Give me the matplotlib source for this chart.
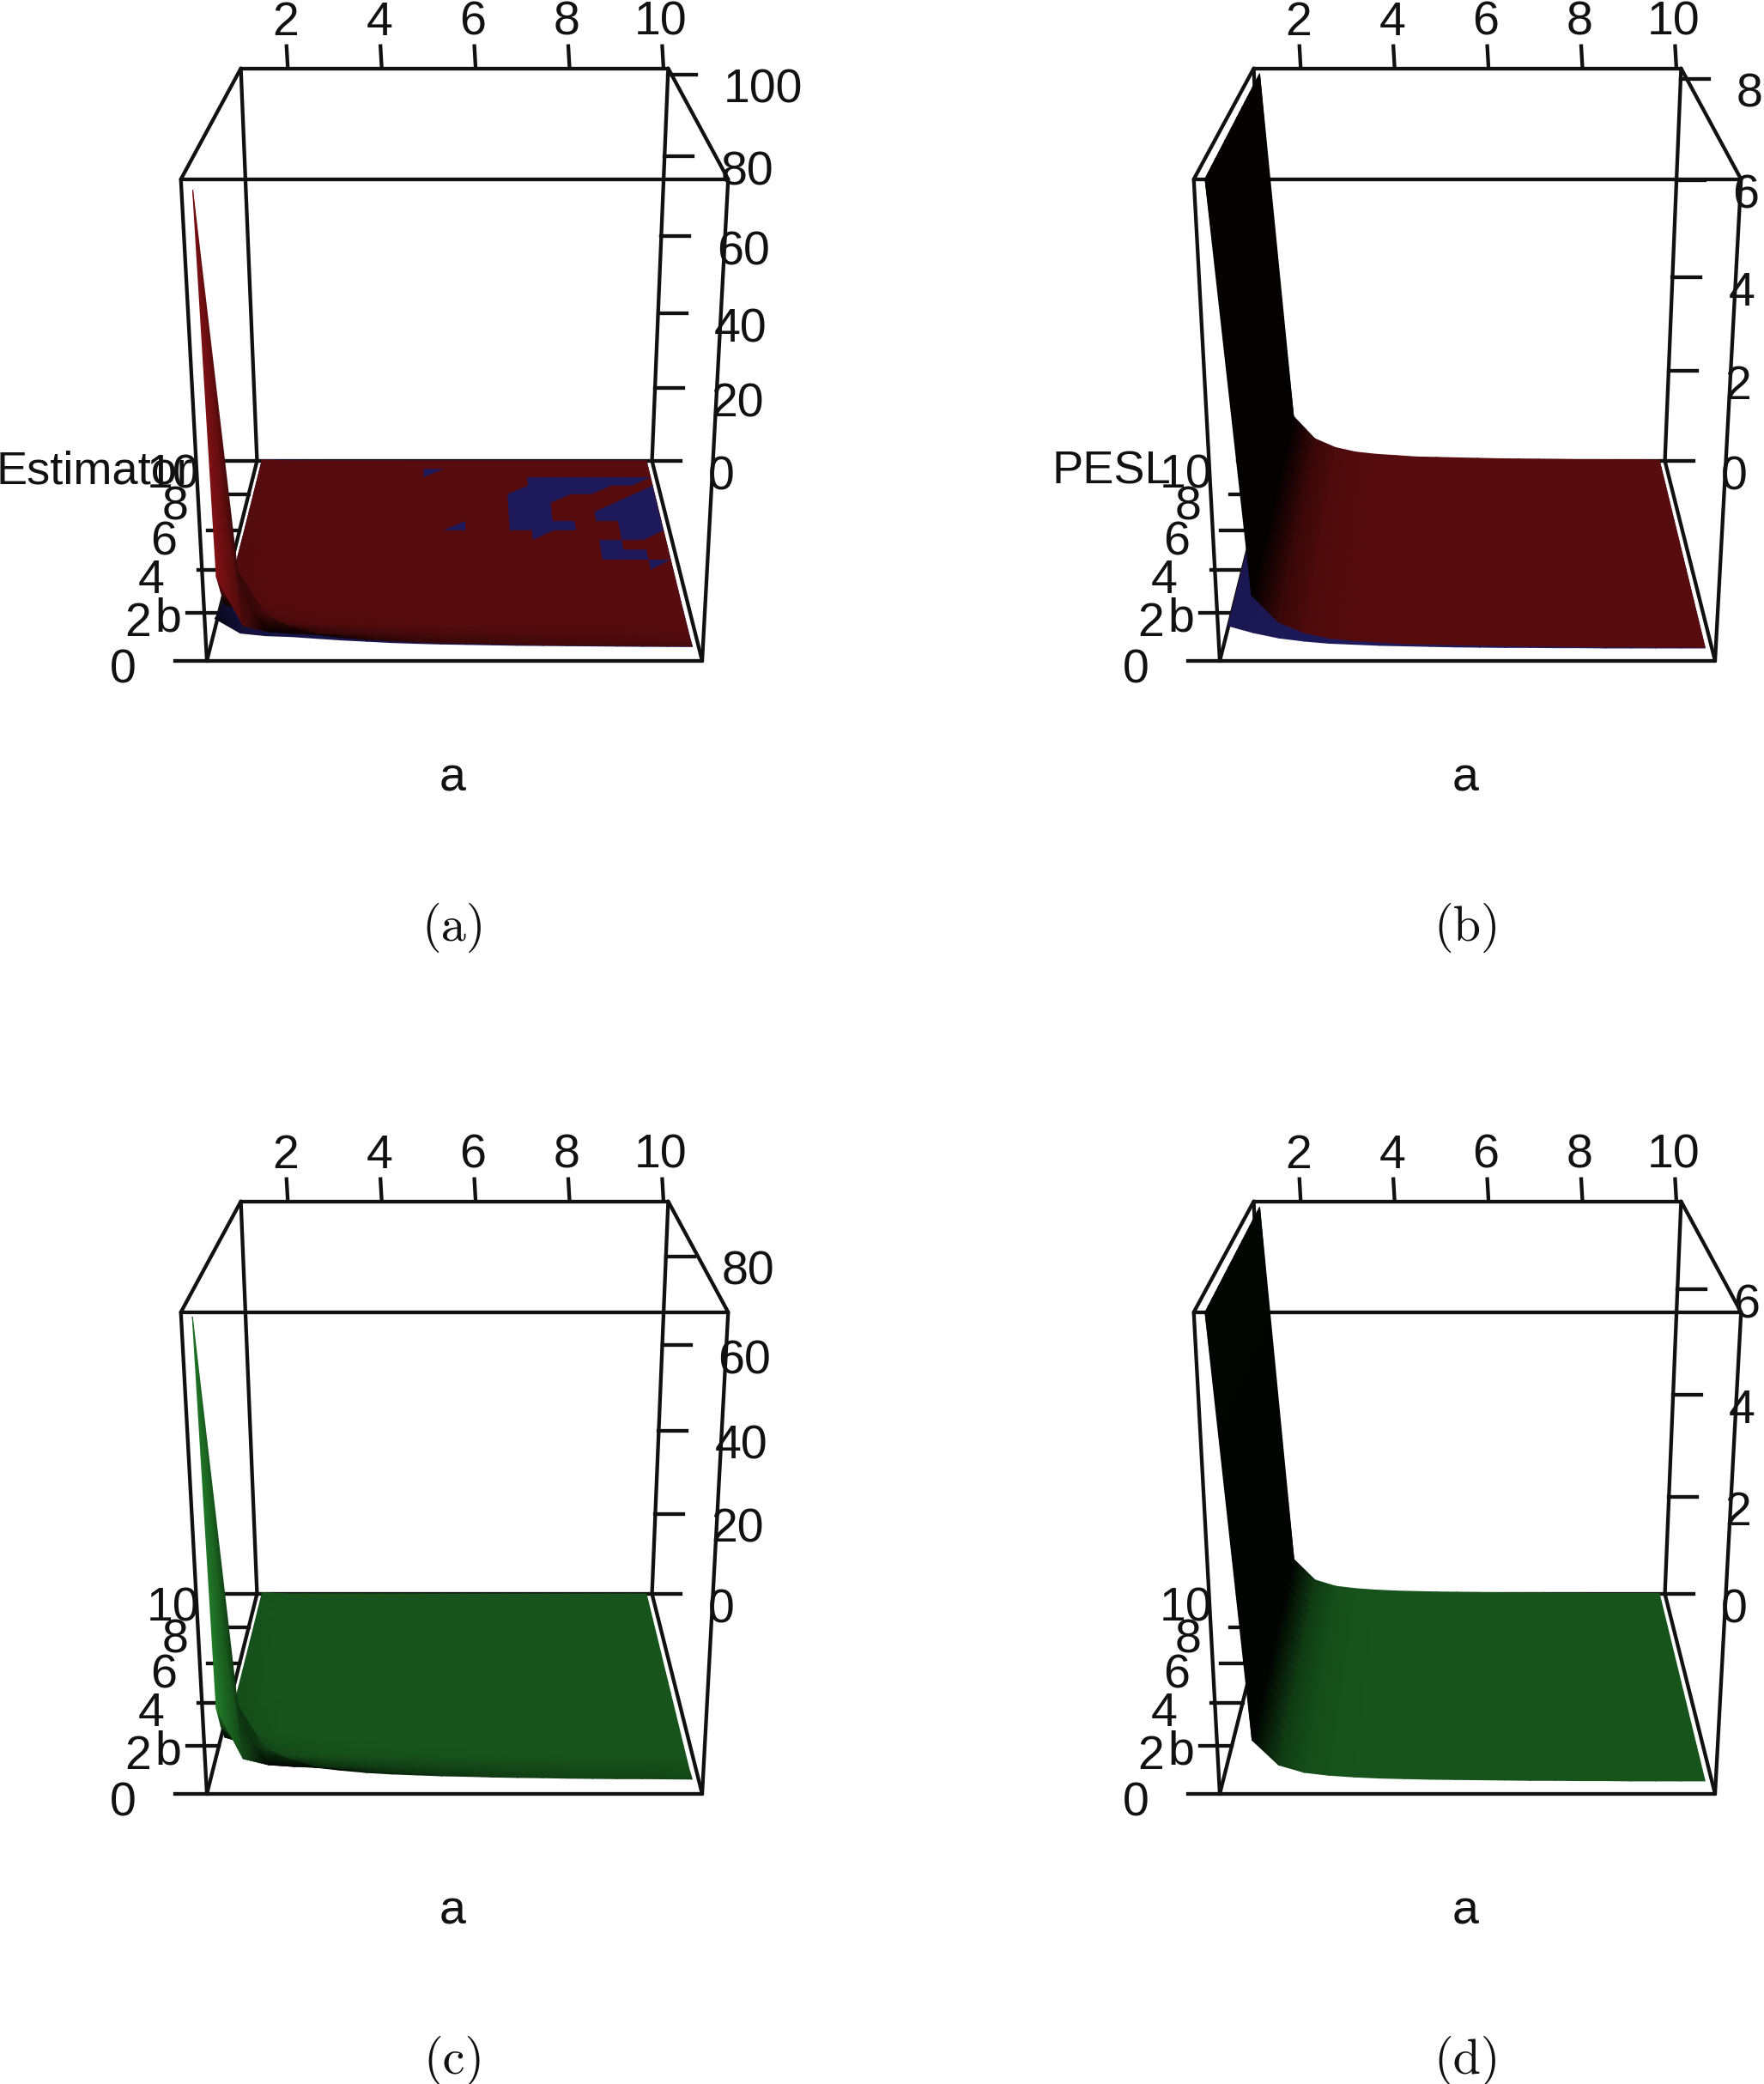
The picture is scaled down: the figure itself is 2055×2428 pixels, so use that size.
import numpy as np
import matplotlib
matplotlib.use('Agg')
import matplotlib.pyplot as plt

plt.rcParams['font.family'] = ['Liberation Sans', 'DejaVu Sans']

# grid of the surfaces
a_vals = [1.12, 1.58, 2.05, 2.52, 2.98, 3.45, 3.92, 4.38, 4.85, 5.31,
          5.78, 6.25, 6.72, 7.19, 7.65, 8.12, 8.58, 9.05, 9.52, 9.97]
b_vals = [0.5, 1.0, 1.5, 2.0, 2.5, 3.0, 3.5, 4.0, 4.5, 5.0,
          5.5, 6.0, 6.5, 7.0, 7.5, 8.0, 8.5, 9.0, 9.5, 10.0]

# z along the front row (b=0.5) and along the first column
est_red_row = [98, 18, 8, 5, 3.3, 2.6, 2.1, 1.8, 1.5, 1.3,
               1.2, 1.05, 0.95, 0.85, 0.8, 0.75, 0.7, 0.65, 0.6, 0.55]
est_red_col = [98, 14, 8, 2, 1.6, 1.3, 1.1, 1.0, 0.9, 0.8,
               0.7, 0.65, 0.6, 0.55, 0.5, 0.45, 0.45, 0.4, 0.4, 0.35]
est_blue_row = [7, 3.6, 3.0, 2.8, 2.4, 2.0, 1.7, 1.4, 1.2, 1.05,
                0.95, 0.85, 0.75, 0.7, 0.65, 0.6, 0.55, 0.5, 0.48, 0.45]
est_blue_col = [7, 5.5, 4, 3, 2, 1.6, 1.3, 1.1, 1.0, 0.9,
                0.8, 0.7, 0.65, 0.6, 0.55, 0.5, 0.45, 0.4, 0.4, 0.35]
est_green_row = [90, 16, 7, 4.5, 3, 2.4, 1.9, 1.6, 1.4, 1.2,
                 1.1, 0.95, 0.85, 0.8, 0.7, 0.65, 0.6, 0.6, 0.55, 0.5]
est_green_col = [90, 13, 7, 2, 1.5, 1.2, 1.0, 0.9, 0.8, 0.7,
                 0.65, 0.6, 0.55, 0.5, 0.45, 0.4, 0.4, 0.35, 0.35, 0.3]
pesl_red = [8.1, 1.0, 0.5, 0.3, 0.2, 0.15, 0.12, 0.09, 0.08, 0.07,
            0.06, 0.05, 0.045, 0.04, 0.035, 0.03, 0.03, 0.025, 0.025, 0.02]
pesl_blue = [0.43, 0.3, 0.2, 0.14, 0.1, 0.08, 0.06, 0.05, 0.04, 0.03,
             0.025, 0.02, 0.02, 0.015, 0.015, 0.01, 0.01, 0.01, 0.01, 0.01]
pesl_green = [7.5, 0.72, 0.29, 0.16, 0.11, 0.08, 0.06, 0.05, 0.04, 0.035,
              0.03, 0.025, 0.02, 0.02, 0.015, 0.015, 0.01, 0.01, 0.01, 0.01]

# where the blue surface comes through in (a), as (column, row) nodes of the grid
blue_patches = [
    [(13, 17), (19, 17), (18, 16), (17, 16), (16, 15), (15, 15), (14, 14), (14, 12),
     (15, 12), (15, 11), (14, 11), (13, 10), (13, 11), (12, 11), (12, 15), (13, 16)],
    [(19, 16), (19, 11), (18, 10), (17, 10), (17, 12), (16, 12), (16, 13)],
    [(16, 10), (17, 10), (17, 9), (18, 9), (18, 8), (16, 8)],
    [(18, 8), (19, 8), (18, 7)],
    [(8, 18), (9, 18), (8, 17)],
    [(9, 11), (10, 12), (10, 11)],
]

a_ticks = [2, 4, 6, 8, 10]
b_ticks = [0, 2, 4, 6, 8, 10]
z_ticks_a = [0, 20, 40, 60, 80, 100]
z_ticks_b = [0, 2, 4, 6, 8]
z_ticks_c = [0, 20, 40, 60, 80]
z_ticks_d = [0, 2, 4, 6]

RED = (88, 12, 14)
BLUE = (30, 26, 92)
GREEN = (23, 84, 28)
LIGHT = np.array([-0.1, -0.85, 0.5])
FS = 40
LW = 3.1
INK = '#111111'


def proj(a, b, z, zmax, ox, oy):
    # same camera for all four panels, only shifted
    u = (np.asarray(a, float) - 1.0) / 9.1
    v = np.asarray(b, float) / 10.0
    w = np.asarray(z, float) / zmax
    d = 1 + 0.254 * v - 0.095 * w
    x = 529.5 + 577 * (u - 0.5) / d
    y = (770 - 96.6 * v - 581 * w) / d
    return x + ox, y + oy


def surf(row, col=None):
    row = np.array(row, float)
    if col is None:
        return np.tile(row, (len(b_vals), 1))
    col = np.array(col, float)
    return np.outer(col, row) / row[0]


def shade(z, zmax, base):
    u = (np.array(a_vals) - 1.0) / 9.1
    v = np.array(b_vals) / 10.0
    dv, du = np.gradient(z / zmax, v, u)
    n = np.sqrt(du ** 2 + dv ** 2 + 1)
    lit = np.abs(-du * LIGHT[0] - dv * LIGHT[1] + LIGHT[2]) / n
    m = np.minimum(lit / LIGHT[2], 1.5)
    m = np.where(m < 0.3, m * 0.5, m)
    rgb = np.array(base) / 255.0
    return np.clip(m[..., None] * rgb, 0, 1)


def draw_surface(ax, z, zmax, base, ox, oy):
    aa, bb = np.meshgrid(a_vals, b_vals)
    x, y = proj(aa, bb, z, zmax, ox, oy)
    c = shade(z, zmax, base)
    # back rows first so the front hides them
    ax.pcolormesh(x[::-1], y[::-1], c[::-1], shading='gouraud', zorder=2)


def draw_box(ax, zmax, ox, oy):
    lo_a, hi_a = 1.0, 10.1
    top = zmax
    edges = [
        ((lo_a, 0, 0), (hi_a, 0, 0)), ((lo_a, 10, 0), (hi_a, 10, 0)),
        ((lo_a, 0, top), (hi_a, 0, top)), ((lo_a, 10, top), (hi_a, 10, top)),
        ((lo_a, 0, 0), (lo_a, 10, 0)), ((hi_a, 0, 0), (hi_a, 10, 0)),
        ((lo_a, 0, top), (lo_a, 10, top)), ((hi_a, 0, top), (hi_a, 10, top)),
        ((lo_a, 0, 0), (lo_a, 0, top)), ((hi_a, 0, 0), (hi_a, 0, top)),
        ((lo_a, 10, 0), (lo_a, 10, top)), ((hi_a, 10, 0), (hi_a, 10, top)),
    ]
    for p, q in edges:
        x0, y0 = proj(p[0], p[1], p[2], zmax, ox, oy)
        x1, y1 = proj(q[0], q[1], q[2], zmax, ox, oy)
        ax.plot([x0, x1], [y0, y1], color=INK, lw=LW, zorder=1, solid_capstyle='round')


def draw_ticks(ax, zmax, zticks, ox, oy):
    for t in a_ticks:
        x, y = proj(t, 10, zmax, zmax, ox, oy)
        ax.plot([x, x - 1.5], [y, y - 26], color=INK, lw=LW, zorder=1)
        ax.text(x - 3, y - 53, str(t), fontsize=FS, ha='center', va='center', color=INK, zorder=5)
    for t in b_ticks:
        x, y = proj(1.0, t, 0, zmax, ox, oy)
        ax.plot([x, x - 37], [y, y], color=INK, lw=LW, zorder=1)
        v = t / 10.0
        ax.text(x - (82 - 15 * v), y + 11 + 6 * v, str(t), fontsize=FS, ha='right', va='center',
                color=INK, zorder=5)
    for t in zticks:
        x, y = proj(10.1, 10, t, zmax, ox, oy)
        ax.plot([x, x + 33], [y, y], color=INK, lw=LW, zorder=1)
        ax.text(x + 65, y + 19, str(t), fontsize=FS, ha='left', va='center', color=INK, zorder=5)


def panel(ax, zmax, zticks, ox, oy, cap, ylab=None, ylab_x=0):
    draw_box(ax, zmax, ox, oy)
    draw_ticks(ax, zmax, zticks, ox, oy)
    ax.text(527 + ox, 908 + oy, 'a', fontsize=FS, ha='center', va='center', color=INK, zorder=5)
    ax.text(196 + ox, 722 + oy, 'b', fontsize=FS, ha='center', va='center', color=INK, zorder=5)
    if ylab:
        ax.text(ylab_x + ox, 549 + oy, ylab, fontsize=39, ha='center', va='center', color=INK, zorder=5)
    ax.text(529 + ox, 1081 + oy, cap, family='cmr10', fontsize=42, ha='center', va='center', color='#111111')


fig = plt.figure(figsize=(20.55, 24.28), dpi=100)
ax = fig.add_axes([0, 0, 1, 1])

DX = 1180
DY = 1320

# (a)
za = 101.4
panel(ax, za, z_ticks_a, 0, 0, '(a)', 'Estimator', 110)
red_a = surf(est_red_row, est_red_col)
draw_surface(ax, surf(est_blue_row, est_blue_col), za, BLUE, 0, 0)
draw_surface(ax, red_a, za, RED, 0, 0)
for poly in blue_patches:
    aa = [a_vals[p[0]] for p in poly]
    bb = [b_vals[p[1]] for p in poly]
    zz = [red_a[p[1], p[0]] for p in poly]
    x, y = proj(aa, bb, zz, za, 0, 0)
    ax.fill(x, y, color=np.array(BLUE) / 255.0, lw=0, zorder=3)

# (b)
zb = 8.2
panel(ax, zb, z_ticks_b, DX, 0, '(b)', 'PESL', 115)
draw_surface(ax, surf(pesl_blue), zb, BLUE, DX, 0)
draw_surface(ax, surf(pesl_red), zb, RED, DX, 0)

# (c)
zc = 92.0
panel(ax, zc, z_ticks_c, 0, DY, '(c)')
draw_surface(ax, surf(est_green_row, est_green_col), zc, GREEN, 0, DY)

# (d)
zd = 7.6
panel(ax, zd, z_ticks_d, DX, DY, '(d)')
draw_surface(ax, surf(pesl_green), zd, GREEN, DX, DY)

ax.set_xlim(0, 2055)
ax.set_ylim(2428, 0)
ax.axis('off')
fig.savefig('out.png', dpi=100, facecolor='white')
